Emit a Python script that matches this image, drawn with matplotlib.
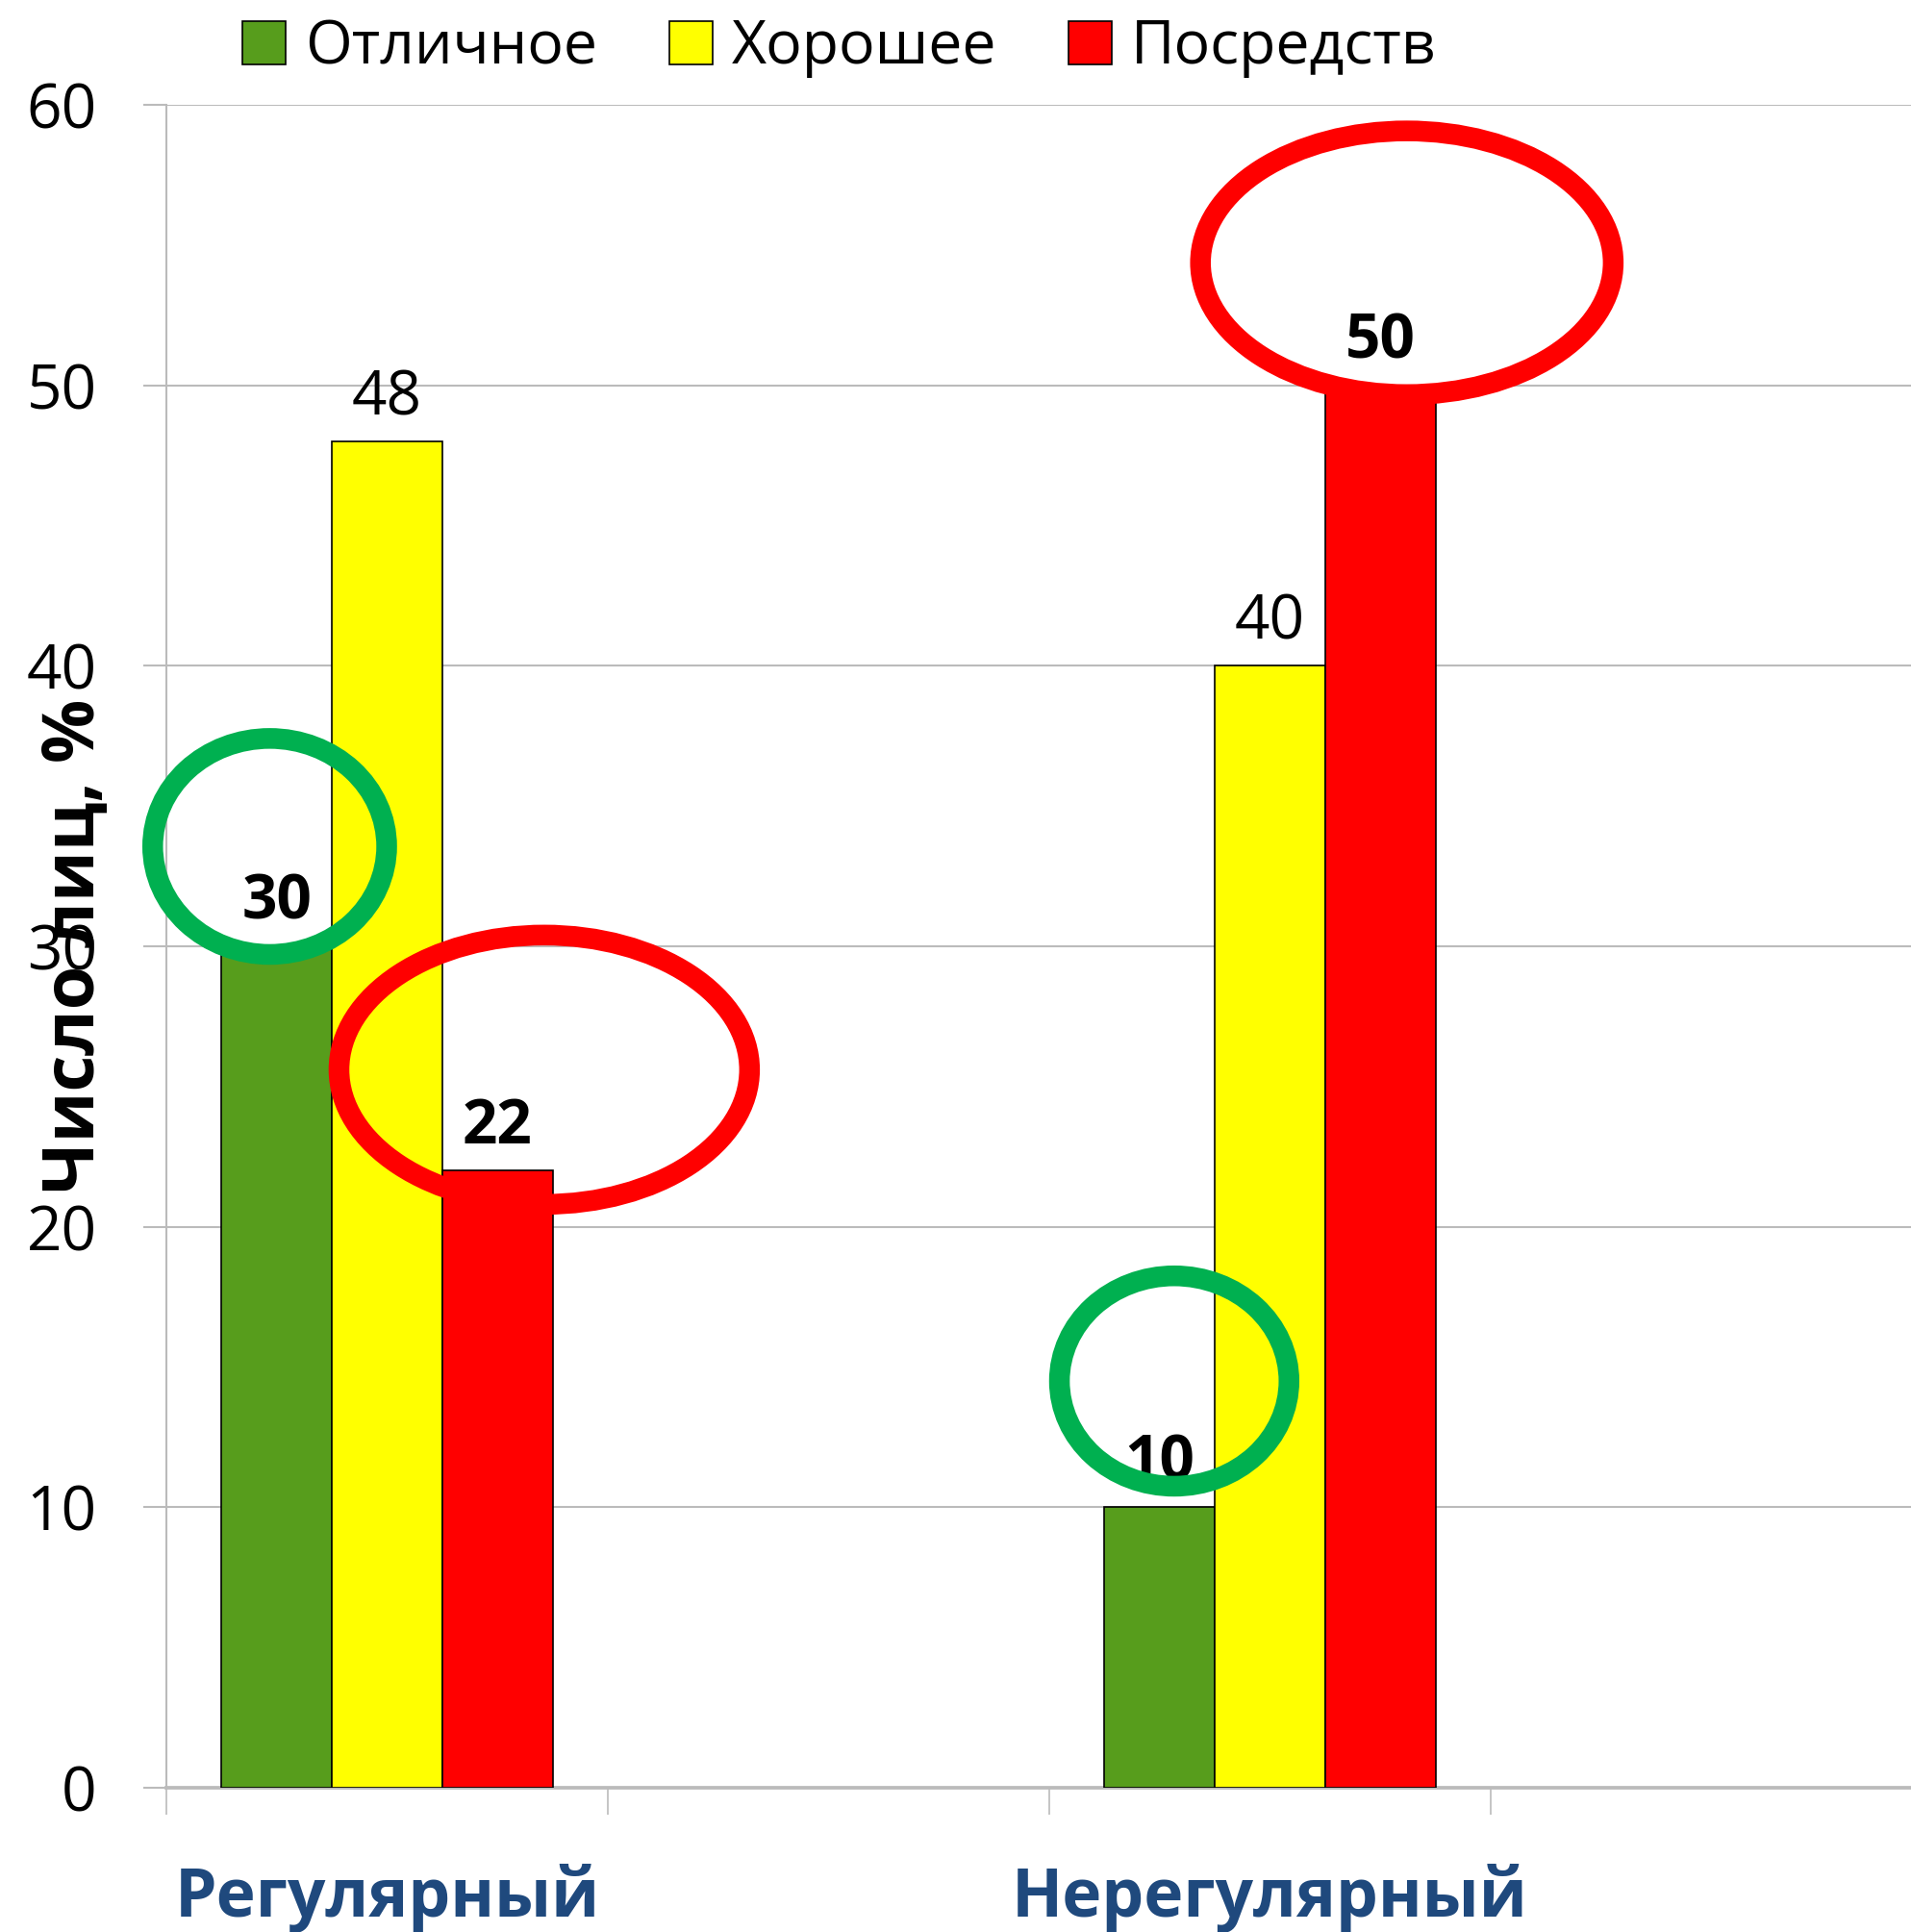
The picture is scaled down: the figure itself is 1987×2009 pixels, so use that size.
import numpy as np
import matplotlib.pyplot as plt
from matplotlib.patches import Ellipse

# data
categories = ['Регулярный', 'Нерегулярный']
series = ['Отличное', 'Хорошее', 'Посредств']
excellent = [30, 10]
good = [48, 40]
fair = [22, 50]
values = [excellent, good, fair]

colors = ['#579D1C', '#FFFF00', '#FF0000']
weights = ['bold', 'normal', 'bold']

plt.rcParams['font.family'] = ['Open Sans', 'DejaVu Sans']
grey = '#BBBBBB'

fig = plt.figure(figsize=(19.87, 20.09), dpi=100)
# axes runs a little past the right edge, as in the original (cropped) chart
ax = fig.add_axes([173/1987, 150/2009, 1836/1987, 1750/2009])

x = np.arange(len(categories)) * 2   # every group is followed by an empty slot
w = 0.25

for i in range(len(series)):
    bars = ax.bar(x + (i - 1) * w, values[i], w, color=colors[i], edgecolor='black',
                  linewidth=1.2, label=series[i], zorder=3)
    ax.bar_label(bars, padding=9, fontsize=46, fontweight=weights[i], zorder=4)

# highlight rings: (series, category, dx, dy, width, height, colour)
rings = [(0, 0, -0.016, 3.56, 0.53, 7.7, '#00B050'),
         (0, 1, 0.033, 4.5, 0.52, 7.5, '#00B050'),
         (2, 0, 0.106, 3.6, 0.93, 9.6, '#FF0000'),
         (2, 1, 0.06, 4.37, 0.935, 9.4, '#FF0000')]
for si, ci, dx, dy, ew, eh, col in rings:
    cx = x[ci] + (si - 1) * w + dx
    cy = values[si][ci] + dy
    ax.add_patch(Ellipse((cx, cy), ew, eh, fill=False, edgecolor=col, linewidth=15.5,
                         zorder=5, clip_on=False))

ax.set_xlim(-0.5, 3.5)
ax.set_ylim(0, 60)
ax.set_yticks(range(0, 61, 10))
ax.yaxis.grid(True, color=grey, linewidth=1.5)
ax.set_axisbelow(True)

ax.set_xticks([-0.5, 0.5, 1.5, 2.5])
ax.set_xticklabels([])
ax.set_xticks(x, minor=True)
ax.set_xticklabels(categories, minor=True, fontsize=50, fontweight='bold', color='#1F497D')
ax.tick_params(axis='x', which='major', length=20, width=1.2, color=grey)
ax.tick_params(axis='x', which='minor', length=0, pad=57)
ax.tick_params(axis='y', labelsize=46, length=17, width=1.5, color=grey, pad=35)

for s in ['top', 'right']:
    ax.spines[s].set_visible(False)
ax.spines['left'].set_color(grey)
ax.spines['left'].set_linewidth(1.5)
ax.spines['bottom'].set_color(grey)
ax.spines['bottom'].set_linewidth(2.7)

ax.set_ylabel('Число лиц, %', fontsize=53, fontweight='bold')
ax.yaxis.set_label_coords(-0.031, 0.5)

ax.legend(loc='center', bbox_to_anchor=(873/1987, 1 - 50/2009), bbox_transform=fig.transFigure,
          ncol=3, frameon=False, fontsize=45, handlelength=0.72, handleheight=0.72,
          handletextpad=0.32, columnspacing=1.2, borderpad=0, borderaxespad=0)

fig.savefig('out.png', dpi=100)
